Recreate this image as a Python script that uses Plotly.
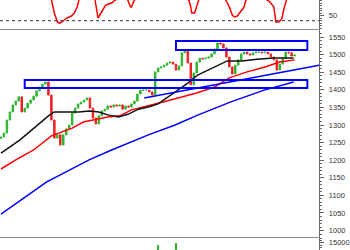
import plotly.graph_objects as go

# ---------------- data ----------------
bar_index = list(range(100))
close = [1266, 1277, 1314, 1337, 1357, 1368, 1380, 1337, 1348, 1362,
         1371, 1382, 1397, 1408, 1416, 1422, 1385, 1314, 1263, 1272,
         1243, 1272, 1289, 1300, 1334, 1348, 1360, 1365, 1371, 1377,
         1348, 1320, 1303, 1326, 1340, 1345, 1354, 1351, 1357, 1354,
         1357, 1345, 1354, 1351, 1360, 1368, 1388, 1399, 1399, 1399,
         1394, 1385, 1451, 1462, 1465, 1470, 1476, 1479, 1473, 1456,
         1468, 1505, 1513, 1476, 1414, 1448, 1479, 1490, 1488, 1490,
         1493, 1502, 1516, 1533, 1530, 1519, 1493, 1465, 1445, 1470,
         1485, 1502, 1507, 1502, 1499, 1505, 1507, 1507, 1505, 1507,
         1502, 1493, 1485, 1456, 1473, 1490, 1507, 1505, 1496, 1499]
first_open = 1262

ma_black_x = [0, 6.3, 16.3, 18, 26.3, 29.7, 33, 36.3, 39.7, 43, 46.3, 49.7, 53,
              56.3, 59.7, 63, 66.3, 69.7, 73, 76.3, 81.3, 86.3, 92, 98.7]
ma_black = [1220, 1257, 1328, 1337, 1337, 1340, 1337, 1328, 1323, 1331, 1345, 1351,
            1360, 1380, 1399, 1419, 1442, 1456, 1470, 1482, 1482, 1487, 1490, 1490]

ma_red_x = [0, 5, 11, 17, 24, 28, 31, 36, 40, 44, 53, 60, 66, 72, 77, 83, 89, 94, 99]
ma_red = [1175, 1201, 1229, 1269, 1291, 1309, 1314, 1323, 1326, 1343, 1362, 1377,
          1391, 1408, 1434, 1451, 1465, 1479, 1485]

ma_blue_x = [0, 15.3, 29.7, 37.3, 49.7, 58.7, 66.3, 77.3, 88.7, 98.7]
ma_blue = [1047, 1138, 1201, 1229, 1272, 1300, 1328, 1365, 1399, 1422]

trend_x = [48.3, 107.3]
trend_y = [1377, 1470]

box_top_x = [59, 103.3]
box_top_y = [1513, 1539]
box_low_x = [8, 103.3]
box_low_y = [1405, 1428]

osc_x = [0, 9.7, 16, 17, 18, 19, 19.7, 20.7, 22, 23.7, 24.7, 25.7, 26.3, 29,
         31.7, 32.3, 32.7, 33.7, 34.7, 35.3, 36.3, 37.3, 38.7, 40.7,
         42.7, 43.7, 44, 44.7, 45, 53,
         63.3, 64, 64.3, 65.3, 66, 66.7, 71.3,
         75.7, 77, 78, 78.7, 79.7, 80.7, 82, 82.3, 82.7, 86.3,
         89.7, 90.7, 92, 92.7, 93.7, 94.7, 95.3, 96, 96.3, 99]
osc = [92, 90, 95, 82, 55.4, 37.4, 34.8, 38, 44.8, 49.4, 54.8, 68, 82, 95,
       82, 61.4, 45.4, 55.4, 65.4, 71.4, 73.4, 75.4, 82, 92,
       82, 67.4, 67.4, 77.4, 82, 95,
       82, 67.4, 55.4, 55.4, 71.4, 82, 95,
       82, 67.4, 51.4, 47.4, 49.4, 57.4, 67.4, 75.4, 82, 95,
       82, 77.4, 67.4, 37.4, 37.4, 43.4, 61.4, 75.4, 82, 92]
osc_level = 40

vol_x = [53, 59]
vol = [14100, 14900]

# ---------------- figure ----------------
opens = [first_open] + close[:-1]
highs = [max(o, c) for o, c in zip(opens, close)]
lows = [min(o, c) for o, c in zip(opens, close)]

GREEN = "#2fb52f"
RED = "#f02020"
BLUE = "#0000ff"
XR = [-0.333, 107.333]
XD = [0, 323 / 350]

fig = go.Figure()

fig.add_trace(go.Scatter(x=osc_x, y=osc, mode="lines", line=dict(color="#ff0000", width=1.5),
                         xaxis="x", yaxis="y", hoverinfo="skip"))
fig.add_trace(go.Scatter(x=[XR[0], XR[1]], y=[osc_level, osc_level], mode="lines",
                         line=dict(color="#333333", width=1, dash="dot"),
                         xaxis="x", yaxis="y", hoverinfo="skip"))

fig.add_trace(go.Candlestick(x=bar_index, open=opens, high=highs, low=lows, close=close,
                             increasing=dict(line=dict(color=GREEN, width=1), fillcolor=GREEN),
                             decreasing=dict(line=dict(color=RED, width=1), fillcolor=RED),
                             whiskerwidth=0, xaxis="x2", yaxis="y2"))
fig.add_trace(go.Scatter(x=ma_blue_x, y=ma_blue, mode="lines", line=dict(color=BLUE, width=1.5),
                         xaxis="x2", yaxis="y2"))
fig.add_trace(go.Scatter(x=ma_red_x, y=ma_red, mode="lines", line=dict(color="#ff0000", width=1.5),
                         xaxis="x2", yaxis="y2"))
fig.add_trace(go.Scatter(x=ma_black_x, y=ma_black, mode="lines", line=dict(color="#111111", width=1.5),
                         xaxis="x2", yaxis="y2"))
fig.add_trace(go.Scatter(x=trend_x, y=trend_y, mode="lines", line=dict(color=BLUE, width=1.5),
                         xaxis="x2", yaxis="y2"))

fig.add_trace(go.Bar(x=vol_x, y=vol, marker=dict(color=GREEN, line=dict(width=0)), width=0.4,
                     xaxis="x3", yaxis="y3"))

for bx, by in ((box_top_x, box_top_y), (box_low_x, box_low_y)):
    fig.add_shape(type="rect", xref="x2", yref="y2", x0=bx[0], x1=bx[1], y0=by[0], y1=by[1],
                  line=dict(color=BLUE, width=2), fillcolor="rgba(0,0,0,0)")

xcommon = dict(range=XR, showticklabels=False, ticks="", showgrid=False, zeroline=False,
               domain=XD, linecolor="#8c8c8c", linewidth=1)
ycommon = dict(side="right", showgrid=False, zeroline=False, showline=True, linecolor="#666666",
               linewidth=1, ticks="outside", ticklen=4, tickcolor="#666666", tickwidth=1,
               tickfont=dict(family="Liberation Sans, Arial", size=7.5, color="#333333"),
               ticklabelstandoff=3, tickformat="d",
               minor=dict(ticks="outside", ticklen=2, tickcolor="#666666"))

fig.update_layout(
    width=350, height=250, margin=dict(l=0, r=0, t=0, b=0),
    paper_bgcolor="white", plot_bgcolor="white", showlegend=False,
    xaxis=dict(**xcommon, anchor="y", showline=True, mirror=False, side="bottom"),
    xaxis2=dict(**xcommon, anchor="y2", showline=True, mirror=True, rangeslider=dict(visible=False)),
    xaxis3=dict(**xcommon, anchor="y3", showline=True, mirror=False, side="top"),
    yaxis=dict(**ycommon, anchor="x", domain=[1 - 29 / 250, 1], range=[23.4, 81.4],
               tickvals=[50], minor_dtick=5),
    yaxis2=dict(**ycommon, anchor="x2", domain=[1 - 237 / 250, 1 - 30 / 250],
                range=[981.8, 1569.9], dtick=50, minor_dtick=10),
    yaxis3=dict(**ycommon, anchor="x3", domain=[0, 12 / 250], range=[12000, 17000],
                tickvals=[15000], minor_dtick=1000),
    bargap=0,
)

fig.write_html("out.html")
